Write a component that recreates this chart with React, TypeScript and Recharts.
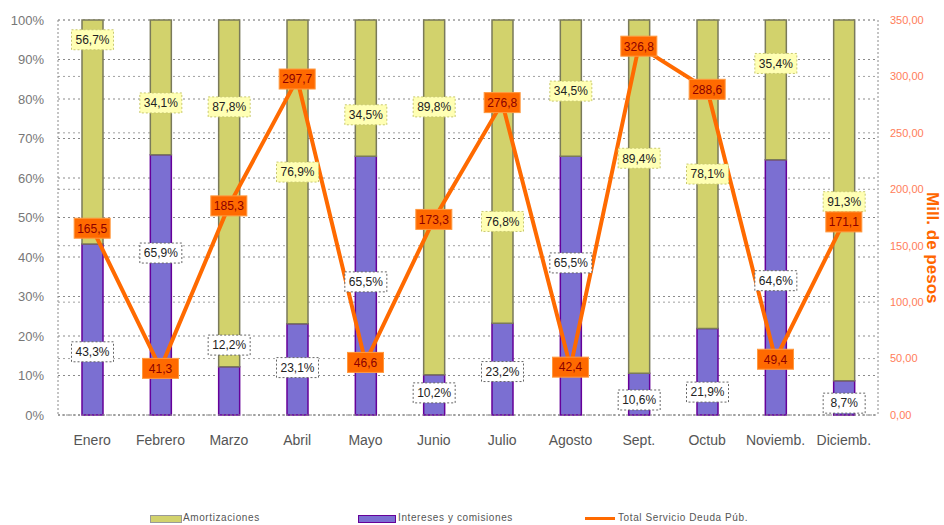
import React from 'react'
import { ComposedChart, Bar, Line, XAxis, YAxis, CartesianGrid, LabelList } from 'recharts'

const months = ['Enero', 'Febrero', 'Marzo', 'Abril', 'Mayo', 'Junio', 'Julio', 'Agosto', 'Sept.', 'Octub', 'Noviemb.', 'Diciemb.']
const intereses = [43.3, 65.9, 12.2, 23.1, 65.5, 10.2, 23.2, 65.5, 10.6, 21.9, 64.6, 8.7]
const amortizaciones = [56.7, 34.1, 87.8, 76.9, 34.5, 89.8, 76.8, 34.5, 89.4, 78.1, 35.4, 91.3]
const totalServicio = [165.5, 41.3, 185.3, 297.7, 46.6, 173.3, 276.8, 42.4, 326.8, 288.6, 49.4, 171.1]

// where each percentage tag sits, in units of the left (%) axis
const amortTagAt = [95, 79, 78, 61.5, 76, 78, 49, 82, 65, 61, 89, 54]
const interesTagAt = [16, 41, 17.7, 12, 33.7, 5.6, 11, 38.5, 3.8, 5.8, 34, 3]

const pctTicks = [0, 10, 20, 30, 40, 50, 60, 70, 80, 90, 100]
const millTicks = [0, 50, 100, 150, 200, 250, 300, 350]

const data = months.map((m, i) => ({
  month: m,
  intereses: intereses[i],
  amortizaciones: amortizaciones[i],
  total: totalServicio[i],
}))

const FONT = '"Liberation Sans", Arial, sans-serif'
const comma = (v: number, d: number) => v.toFixed(d).replace('.', ',')

const box = (p: any) => {
  const vb = p.viewBox || p
  return { x: vb.x ?? p.x, y: vb.y ?? p.y, w: vb.width ?? p.width ?? 0, h: vb.height ?? p.height ?? 0 }
}

const AmortTag = (props: any) => {
  const i = props.index
  const { x, y, w, h } = box(props)
  const v = amortizaciones[i]
  const cx = x + w / 2
  const cy = y + ((100 - amortTagAt[i]) * h) / v
  return (
    <g>
      <rect x={cx - 21} y={cy - 10} width={42} height={20} fill="#ffffb4" stroke="#c8c870" strokeDasharray="2 2" />
      <text x={cx} y={cy} dy="0.36em" textAnchor="middle" fontSize={12} fill="#222" fontFamily={FONT}>
        {comma(v, 1)}%
      </text>
    </g>
  )
}

const InteresTag = (props: any) => {
  const i = props.index
  const { x, y, w, h } = box(props)
  const v = intereses[i]
  const cx = x + w / 2
  const cy = y + ((v - interesTagAt[i]) * h) / v
  return (
    <g>
      <rect x={cx - 21} y={cy - 10} width={42} height={20} fill="#ffffff" stroke="#666" strokeDasharray="2 2" />
      <text x={cx} y={cy} dy="0.36em" textAnchor="middle" fontSize={12} fill="#222" fontFamily={FONT}>
        {comma(v, 1)}%
      </text>
    </g>
  )
}

const TotalTag = (props: any) => {
  const i = props.index
  const { x, y } = box(props)
  return (
    <g>
      <rect x={x - 18} y={y - 10} width={36} height={20} fill="#ff6a00" stroke="#ff9a40" />
      <text x={x} y={y} dy="0.36em" textAnchor="middle" fontSize={12} fill="#8b0000" fontFamily={FONT}>
        {comma(totalServicio[i], 1)}
      </text>
    </g>
  )
}

const legendText: React.CSSProperties = { position: 'absolute', top: 512, fontSize: 10, color: '#555', letterSpacing: 0.6, fontFamily: FONT }

export default function App() {
  return (
    <div style={{ position: 'absolute', left: 0, top: 0, width: 944, height: 525, background: '#fff', fontFamily: FONT }}>
      <ComposedChart width={944} height={525} data={data} margin={{ top: 20, right: 10, bottom: 80, left: 0 }}>
        <CartesianGrid yAxisId="left" vertical={false} stroke="#8a8a8a" strokeDasharray="2 3" />
        <CartesianGrid yAxisId="right" vertical={false} stroke="#a0a0a0" strokeDasharray="2 3" />
        <XAxis
          dataKey="month"
          interval={0}
          tickLine={false}
          tickSize={0}
          tickMargin={20}
          height={30}
          axisLine={{ stroke: '#8a8a8a', strokeDasharray: '2 2' }}
          tick={{ fill: '#555', fontSize: 14, fontFamily: FONT }}
        />
        <YAxis
          yAxisId="left"
          width={58}
          domain={[0, 100]}
          ticks={pctTicks}
          tickFormatter={(v: number) => `${v}%`}
          tickLine={false}
          tickSize={0}
          tickMargin={14}
          axisLine={{ stroke: '#8a8a8a', strokeDasharray: '2 2' }}
          tick={{ fill: '#777', fontSize: 13, fontFamily: FONT }}
        />
        <YAxis
          yAxisId="right"
          orientation="right"
          width={56}
          domain={[0, 350]}
          ticks={millTicks}
          tickFormatter={(v: number) => comma(v, 2)}
          tickLine={false}
          tickSize={0}
          tickMargin={12}
          axisLine={{ stroke: '#8a8a8a', strokeDasharray: '2 2' }}
          tick={{ fill: '#ff7d5a', fontSize: 11, fontFamily: FONT }}
        />
        <Bar yAxisId="left" dataKey="intereses" stackId="a" barSize={21} fill="#7b6fd2" stroke="#660099" strokeWidth={1.5} isAnimationActive={false}>
          <LabelList dataKey="intereses" content={InteresTag} />
        </Bar>
        <Bar yAxisId="left" dataKey="amortizaciones" stackId="a" barSize={21} fill="#d2d26c" stroke="#7a7a5a" strokeWidth={1.5} isAnimationActive={false}>
          <LabelList dataKey="amortizaciones" content={AmortTag} />
        </Bar>
        <Line yAxisId="right" dataKey="total" stroke="#ff6a00" strokeWidth={4} dot={false} isAnimationActive={false}>
          <LabelList dataKey="total" content={TotalTag} />
        </Line>
      </ComposedChart>

      <div style={{ position: 'absolute', left: 922, top: 192, writingMode: 'vertical-rl', color: '#ff6600', fontSize: 17, fontWeight: 'bold', fontFamily: FONT }}>
        Mill. de pesos
      </div>

      <div style={{ position: 'absolute', left: 150, top: 515, width: 30, height: 6, background: '#d2d26c', border: '1px solid #999' }} />
      <div style={{ ...legendText, left: 183 }}>Amortizaciones</div>
      <div style={{ position: 'absolute', left: 358, top: 515, width: 36, height: 6, background: '#7b6fd2', border: '1px solid #660099' }} />
      <div style={{ ...legendText, left: 398 }}>Intereses y comisiones</div>
      <div style={{ position: 'absolute', left: 585, top: 517, width: 30, height: 3, background: '#ff6a00' }} />
      <div style={{ ...legendText, left: 618 }}>Total Servicio Deuda Púb.</div>
    </div>
  )
}
